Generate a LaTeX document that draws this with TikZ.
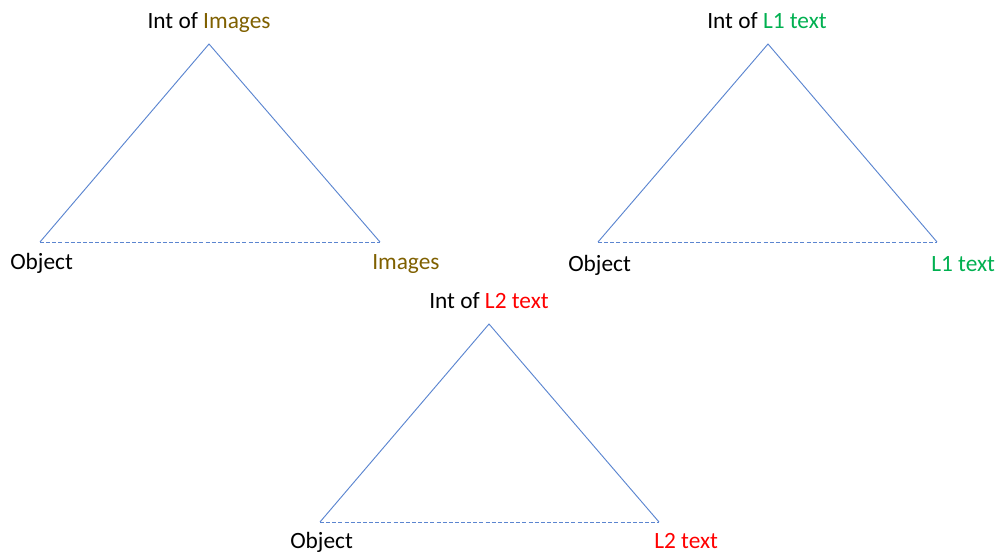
\documentclass[tikz,border=0pt]{standalone}
\usepackage{fontspec}
\setmainfont{Carlito}
\definecolor{edge}{HTML}{5B85D0}
\definecolor{gold}{HTML}{7F6000}
\definecolor{lgreen}{HTML}{00B050}
\definecolor{lred}{HTML}{FF0000}
\tikzset{
  lbl/.style={inner sep=0pt, font=\fontsize{17.5}{21}\selectfont, anchor=base},
  side/.style={draw=edge, line width=0.7pt},
  basel/.style={draw=edge, line width=0.7pt, dash pattern=on 3pt off 1.6pt},
}
\begin{document}
\begin{tikzpicture}[x=0.75pt,y=-0.75pt]
\useasboundingbox (0,0) rectangle (1000,552);
% triangle 1
\coordinate (a1) at (209,44);
\coordinate (l1) at (40,242);
\coordinate (r1) at (380,242);
\draw[side] (l1) -- (a1) -- (r1);
\draw[basel] (l1) -- (r1);
\node[lbl] (t1) at (209,29) {Int of \textcolor{gold}{Images}};
\node[lbl,anchor=base west] (o1) at (10,270) {Object};
\node[lbl,anchor=base west,text=gold] (i1) at (372,270) {Images};
% triangle 2
\coordinate (a2) at (768,44);
\coordinate (l2) at (598,242);
\coordinate (r2) at (937,242);
\draw[side] (l2) -- (a2) -- (r2);
\draw[basel] (l2) -- (r2);
\node[lbl] (t2) at (767,29) {Int of \textcolor{lgreen}{L1 text}};
\node[lbl,anchor=base west] (o2) at (568,272) {Object};
\node[lbl,anchor=base west,text=lgreen] (i2) at (931,272) {L1 text};
% triangle 3
\coordinate (a3) at (489,324);
\coordinate (l3) at (320,522);
\coordinate (r3) at (659,522);
\draw[side] (l3) -- (a3) -- (r3);
\draw[basel] (l3) -- (r3);
\node[lbl] (t3) at (489,309) {Int of \textcolor{lred}{L2 text}};
\node[lbl,anchor=base west] (o3) at (290,548) {Object};
\node[lbl,anchor=base west,text=lred] (i3) at (654,548) {L2 text};
\end{tikzpicture}
\end{document}
